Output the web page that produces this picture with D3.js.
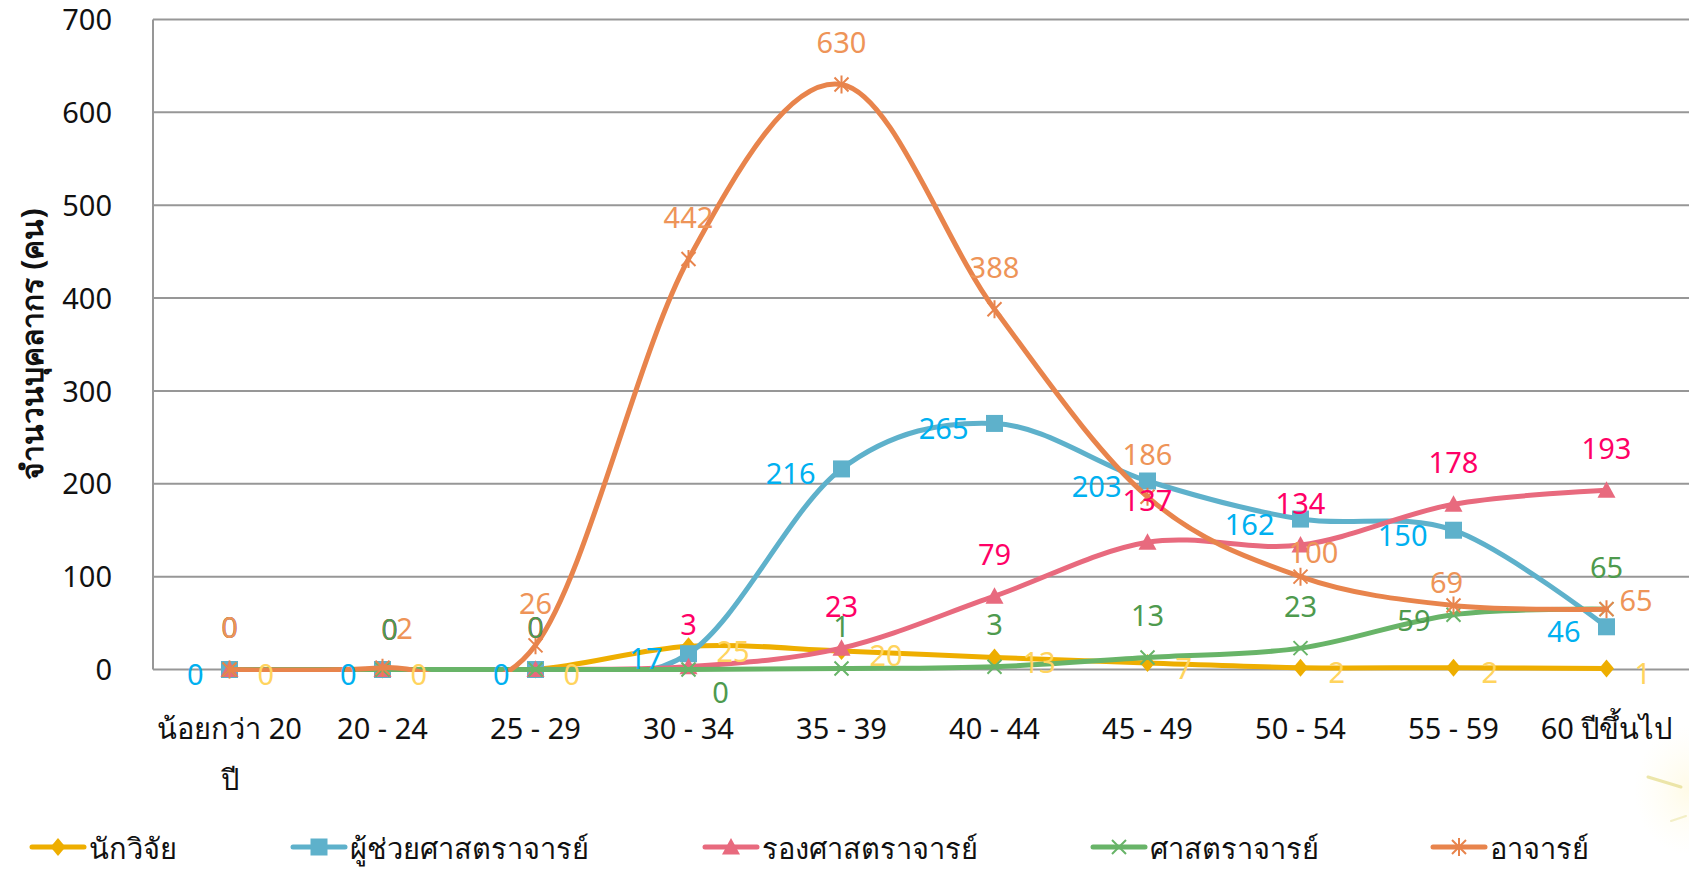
<!DOCTYPE html>
<html>
<head>
<meta charset="utf-8">
<script src="https://cdn.jsdelivr.net/npm/d3@7"></script>
<style>
  html, body { margin: 0; padding: 0; background: #ffffff; }
  svg { display: block; }
  text { font-family: "Noto Sans", "Open Sans", "DejaVu Sans", sans-serif; }
</style>
</head>
<body>
<svg id="chart" width="1689" height="878"></svg>
<script>
// ---------------- DATA ----------------
const categories = ["น้อยกว่า 20 ปี", "20 - 24", "25 - 29", "30 - 34", "35 - 39", "40 - 44", "45 - 49", "50 - 54", "55 - 59", "60 ปีขึ้นไป"];
const seriesNames = ["นักวิจัย", "ผู้ช่วยศาสตราจารย์", "รองศาสตราจารย์", "ศาสตราจารย์", "อาจารย์"];
const researcher = [0, 0, 0, 25, 20, 13, 7, 2, 2, 1];
const asstProfessor = [0, 0, 0, 17, 216, 265, 203, 162, 150, 46];
const assocProfessor = [0, 0, 0, 3, 23, 79, 137, 134, 178, 193];
const professor = [0, 0, 0, 0, 1, 3, 13, 23, 59, 65];
const lecturer = [0, 2, 26, 442, 630, 388, 186, 100, 69, 65];
const yTicks = [0, 100, 200, 300, 400, 500, 600, 700];
const yTitle = "จำนวนบุคลากร (คน)";

// ---------------- STYLE ----------------
const styles = [
  { line: "#EEAE00", label: "#FFD45E", marker: "diamond", pos: "right" },
  { line: "#5EB1CB", label: "#00B0F0", marker: "square",  pos: "left" },
  { line: "#E86A7E", label: "#FF0066", marker: "triangle", pos: "above" },
  { line: "#68B468", label: "#4E9A4E", marker: "x",        pos: "above" },
  { line: "#E8844C", label: "#EE9458", marker: "star",     pos: "above" }
];
// per-point label adjustments (series index -> point index -> placement)
const labelAdjust = {
  2: { 1: { anchor: "middle", dx: 7, dy: -41 } },
  3: { 1: { anchor: "middle", dx: 7, dy: -41 }, 3: { anchor: "middle", dx: 32, dy: 22 }, 8: { anchor: "end", dx: -23, dy: 5 } },
  4: { 1: { anchor: "middle", dx: 22, dy: -40 }, 7: { anchor: "middle", dx: 13, dy: -25 }, 8: { anchor: "middle", dx: -7, dy: -24 }, 9: { anchor: "start", dx: 13, dy: -10 } }
};

const seriesValues = [researcher, asstProfessor, assocProfessor, professor, lecturer];
const series = seriesNames.map((name, i) => ({ name, values: seriesValues[i], style: styles[i], idx: i }));

const svg = d3.select("#chart");
const W = 1689, H = 878;
const plot = { left: 153, right: 1683, top: 19.5, bottom: 669.5 };
const FONT = 29;

const x = d3.scaleBand().domain(categories).range([plot.left, plot.right]).paddingInner(0).paddingOuter(0);
const xc = c => x(c) + x.bandwidth() / 2;
const y = d3.scaleLinear().domain([0, 700]).range([plot.bottom, plot.top]);

// faint decorative glare at lower right
const defs = svg.append("defs");
const grad = defs.append("radialGradient").attr("id", "glare");
grad.append("stop").attr("offset", "0%").attr("stop-color", "#fff8d6").attr("stop-opacity", 0.6);
grad.append("stop").attr("offset", "100%").attr("stop-color", "#fffbe8").attr("stop-opacity", 0);
svg.append("ellipse").attr("cx", 1689).attr("cy", 790).attr("rx", 55).attr("ry", 65).attr("fill", "url(#glare)");
svg.append("line").attr("x1", 1648).attr("y1", 777).attr("x2", 1681).attr("y2", 787)
  .attr("stroke", "#e6de90").attr("stroke-width", 3).attr("stroke-linecap", "round").attr("opacity", 0.75);
svg.append("line").attr("x1", 1671).attr("y1", 821).attr("x2", 1686).attr("y2", 816)
  .attr("stroke", "#ece6a8").attr("stroke-width", 2).attr("stroke-linecap", "round").attr("opacity", 0.6);

// plot-area clip for the lines (Excel clips curves to the plot area)
defs.append("clipPath").attr("id", "plotClip").append("rect")
  .attr("x", plot.left - 10).attr("y", 0).attr("width", W - plot.left + 10).attr("height", plot.bottom + 2.5);

// gridlines
svg.append("g").selectAll("line").data(yTicks.filter(t => t > 0)).join("line")
  .attr("x1", plot.left).attr("x2", W)
  .attr("y1", d => y(d)).attr("y2", d => y(d))
  .attr("stroke", "#979797").attr("stroke-width", 2);

// axes via d3
const yAxis = d3.axisLeft(y).tickValues(yTicks).tickSize(0).tickPadding(41).tickFormat(d3.format("d"));
const gy = svg.append("g").attr("transform", `translate(${plot.left},0)`).call(yAxis);
gy.select(".domain").attr("stroke", "#979797").attr("stroke-width", 2)
  .attr("d", `M0,${plot.top}V${plot.bottom}`);
gy.selectAll("text").attr("font-size", FONT).attr("fill", "#111").attr("dy", "0.35em")
  .style("font-family", "\"Noto Sans\", \"Open Sans\", sans-serif");

const xAxis = d3.axisBottom(x).tickSize(0).tickPadding(0).tickFormat(() => "");
const gx = svg.append("g").attr("transform", `translate(0,${plot.bottom})`).call(xAxis);
gx.select(".domain").attr("stroke", "#979797").attr("stroke-width", 2).attr("d", `M${plot.left},0H${W}`);
gx.selectAll(".tick").each(function(d) {
  const t = d3.select(this).select("text").attr("font-size", FONT).attr("fill", "#111")
    .attr("text-anchor", "middle").attr("dy", null).attr("y", 0);
  t.selectAll("*").remove();
  let lines = [d];
  if (d === "น้อยกว่า 20 ปี") lines = ["น้อยกว่า 20", "ปี"];
  lines.forEach((ln, k) => {
    t.append("tspan").attr("x", 0).attr("y", 58 + k * 51).attr("dominant-baseline", "central").text(ln);
  });
});

// y title
svg.append("text")
  .attr("transform", `translate(31,344) rotate(-90)`)
  .attr("text-anchor", "middle").attr("dominant-baseline", "central")
  .attr("font-size", 30).attr("font-weight", "bold").attr("fill", "#111")
  .text(yTitle);

// marker drawing
function drawMarker(g, type, color) {
  if (type === "diamond") {
    g.append("path").attr("d", "M0,-9L7.5,0L0,9L-7.5,0Z").attr("fill", color);
  } else if (type === "square") {
    g.append("rect").attr("x", -8.5).attr("y", -8.5).attr("width", 17).attr("height", 17).attr("fill", color);
  } else if (type === "triangle") {
    g.append("path").attr("d", "M0,-9L9,7.5L-9,7.5Z").attr("fill", color);
  } else if (type === "x") {
    g.append("path").attr("d", "M-7,-7L7,7M-7,7L7,-7").attr("stroke", color).attr("stroke-width", 2).attr("fill", "none");
  } else if (type === "star") {
    g.append("path").attr("d", "M-7,-7L7,7M-7,7L7,-7M0,-9V9").attr("stroke", color).attr("stroke-width", 2).attr("fill", "none");
  }
}

const line = d3.line()
  .x((d, i) => xc(categories[i]))
  .y(d => y(d))
  .curve(d3.curveCatmullRom.alpha(0));

const gSeries = svg.append("g");
series.forEach(s => {
  const g = gSeries.append("g");
  g.append("path").attr("d", line(s.values)).attr("fill", "none").attr("clip-path", "url(#plotClip)")
    .attr("stroke", s.style.line).attr("stroke-width", 5).attr("stroke-linejoin", "round").attr("stroke-linecap", "round");
  s.values.forEach((v, i) => {
    const m = g.append("g").attr("transform", `translate(${xc(categories[i])},${y(v)})`);
    drawMarker(m, s.style.marker, s.style.line);
  });
});

// data labels
const gLabels = svg.append("g");
series.forEach(s => {
  s.values.forEach((v, i) => {
    let p;
    if (s.style.pos === "right") p = { anchor: "start", dx: 28, dy: 4 };
    else if (s.style.pos === "left") p = { anchor: "end", dx: -26, dy: 4 };
    else p = { anchor: "middle", dx: 0, dy: -43 };
    if (labelAdjust[s.idx] && labelAdjust[s.idx][i]) p = labelAdjust[s.idx][i];
    gLabels.append("text")
      .attr("x", xc(categories[i]) + p.dx).attr("y", y(v) + p.dy)
      .attr("text-anchor", p.anchor).attr("dominant-baseline", "central")
      .attr("font-size", FONT).attr("fill", s.style.label)
      .text(v);
  });
});

// legend
const legendX = [32, 293, 705, 1093, 1433];
const legendY = 847;
const gLeg = svg.append("g");
series.forEach((s, i) => {
  const g = gLeg.append("g").attr("transform", `translate(${legendX[i]},${legendY})`);
  g.append("line").attr("x1", 0).attr("x2", 52).attr("y1", 0).attr("y2", 0)
    .attr("stroke", s.style.line).attr("stroke-width", 5).attr("stroke-linecap", "round");
  drawMarker(g.append("g").attr("transform", "translate(26,0)"), s.style.marker, s.style.line);
  g.append("text").attr("x", 57).attr("y", 0).attr("dominant-baseline", "central")
    .attr("font-size", FONT).attr("fill", "#111").text(s.name);
});
</script>
</body>
</html>
